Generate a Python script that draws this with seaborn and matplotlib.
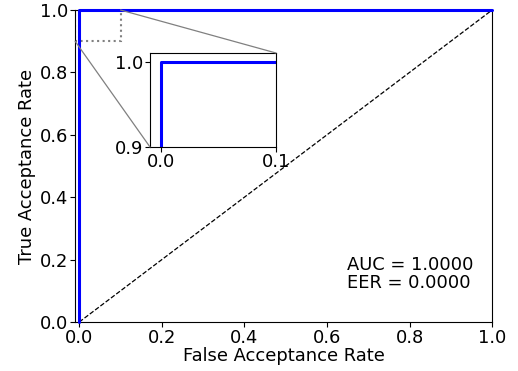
import matplotlib
matplotlib.use("Agg")
import matplotlib.pyplot as plt
import seaborn as sns
import pandas as pd
from matplotlib.patches import Rectangle, ConnectionPatch

sns.set_style("ticks", {"axes.edgecolor": "black", "text.color": "black",
                        "xtick.color": "black", "ytick.color": "black",
                        "axes.labelcolor": "black"})
plt.rcParams['font.family'] = ['DejaVu Sans']

fpr = [0.0, 0.0, 1.0]
tpr = [0.0, 1.0, 1.0]
diag_x = [0.0, 1.0]
diag_y = [0.0, 1.0]
auc_val = 1.0
eer_val = 0.0

FS = 12.9

df = pd.DataFrame({"fpr": fpr, "tpr": tpr})
dd = pd.DataFrame({"x": diag_x, "y": diag_y})

fig = plt.figure(figsize=(5.18, 3.71), dpi=100)
ax = fig.add_axes([0.145, 0.132, 0.805, 0.841])
sns.lineplot(data=df, x="fpr", y="tpr", sort=False, estimator=None, color="blue", lw=2.2, ax=ax)
sns.lineplot(data=dd, x="x", y="y", sort=False, estimator=None, color="black", lw=0.9, ls="--", ax=ax)
ax.lines[0].set_clip_on(False)
ax.lines[0].set_zorder(5)
ax.set_xlim(-0.01, 1.0)
ax.set_ylim(0.0, 1.0)
ax.set_xticks([0, 0.2, 0.4, 0.6, 0.8, 1.0])
ax.set_yticks([0, 0.2, 0.4, 0.6, 0.8, 1.0])
ax.tick_params(labelsize=FS, pad=1.5)
ax.set_xlabel("False Acceptance Rate", fontsize=FS, labelpad=0)
ax.set_ylabel("True Acceptance Rate", fontsize=FS, labelpad=3)
ax.text(0.955, 0.095, f"AUC = {auc_val:.4f}\nEER = {eer_val:.4f}", ha="right", va="bottom",
        multialignment="left", fontsize=FS, linespacing=1.05)
for s in ax.spines.values():
    s.set_linewidth(0.8)

# inset
axins = fig.add_axes([150/518, 1-147/371, 126/518, 94/371])
sns.lineplot(data=df, x="fpr", y="tpr", sort=False, estimator=None, color="blue", lw=2.2, ax=axins)
axins.set_xlim(-0.01, 0.1)
axins.set_ylim(0.9, 1.01)
axins.set_xticks([0.0, 0.1])
axins.set_yticks([0.9, 1.0])
axins.tick_params(labelsize=FS, pad=1)
axins.set_xlabel("")
axins.set_ylabel("")

x0, x1, y0, y1 = -0.01, 0.1, 0.9, 1.0
ax.add_patch(Rectangle((x0, y0), x1 - x0, y1 - y0, fill=False, ec="0.5", ls=":", lw=1.5, zorder=1))
c1 = ConnectionPatch(xyA=(x1, y1), coordsA=ax.transData, xyB=(1, 1), coordsB=axins.transAxes, color="0.5", lw=0.9)
c2 = ConnectionPatch(xyA=(x0, y0), coordsA=ax.transData, xyB=(0, 0), coordsB=axins.transAxes, color="0.5", lw=0.9)
fig.add_artist(c1)
fig.add_artist(c2)

fig.savefig("out.png", dpi=100)
